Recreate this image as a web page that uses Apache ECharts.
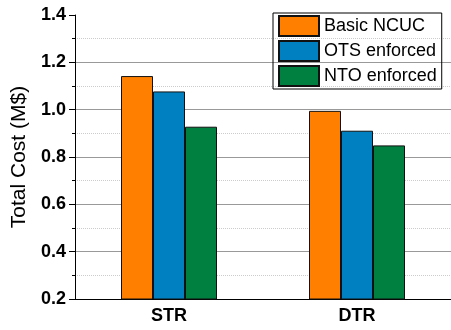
<!DOCTYPE html>
<html><head><meta charset="utf-8">
<script src="https://cdn.jsdelivr.net/npm/echarts@6/dist/echarts.min.js"></script>
<style>html,body{margin:0;padding:0;background:#fff}#c{width:451px;height:330px}</style>
</head><body><div id="c"></div>
<script>
const categories = ['STR', 'DTR'];
const basicNCUC = [1.142, 0.995];
const otsEnforced = [1.077, 0.911];
const ntoEnforced = [0.928, 0.849];
const seriesNames = ['Basic NCUC', 'OTS enforced', 'NTO enforced'];
const colors = ['#FF8000', '#0080C0', '#008040'];
const FONT = 'Liberation Sans';
const chart = echarts.init(document.getElementById('c'));
const mk = (name, data, color) => ({
  name, type: 'bar', data, barWidth: 32, barGap: '0%',
  itemStyle: { color, borderColor: '#111', borderWidth: 1 }
});
chart.setOption({
  animation: false,
  textStyle: { fontFamily: FONT },
  grid: { left: 75, right: -4, top: 15, bottom: 31 },
  legend: {
    orient: 'vertical', left: 273, top: 13,
    icon: 'rect',
    itemWidth: 40, itemHeight: 20, itemGap: 3,
    padding: [2, 5, 2, 5],
    borderColor: '#000', borderWidth: 1,
    textStyle: { fontFamily: FONT, fontSize: 18, color: '#000' },
    data: seriesNames
  },
  xAxis: {
    type: 'category', data: categories,
    axisLine: { lineStyle: { color: '#000', width: 1 } },
    axisTick: { alignWithLabel: true, length: 5, lineStyle: { color: '#000' } },
    axisLabel: { fontFamily: FONT, fontSize: 18, fontWeight: 'bold', color: '#000', margin: 8 }
  },
  yAxis: {
    type: 'value', min: 0.2, max: 1.4, interval: 0.2,
    name: 'Total Cost (M$)', nameLocation: 'middle', nameGap: 45,
    nameTextStyle: { fontFamily: FONT, fontSize: 21, color: '#000' },
    axisLine: { show: true, lineStyle: { color: '#000' } },
    axisTick: { show: true, length: 6, lineStyle: { color: '#000' } },
    minorTick: { show: true, splitNumber: 2, length: 3, lineStyle: { color: '#000' } },
    minorSplitLine: { show: true, lineStyle: { color: '#ccc', type: 'dotted', width: 1 } },
    splitLine: { show: true, showMinLine: false, showMaxLine: false, lineStyle: { color: '#999', width: 1 } },
    axisLabel: { fontFamily: FONT, fontSize: 18, fontWeight: 'bold', color: '#000', margin: 9,
      formatter: v => v.toFixed(1) }
  },
  series: [
    mk(seriesNames[0], basicNCUC, colors[0]),
    mk(seriesNames[1], otsEnforced, colors[1]),
    mk(seriesNames[2], ntoEnforced, colors[2])
  ]
});
</script></body></html>
